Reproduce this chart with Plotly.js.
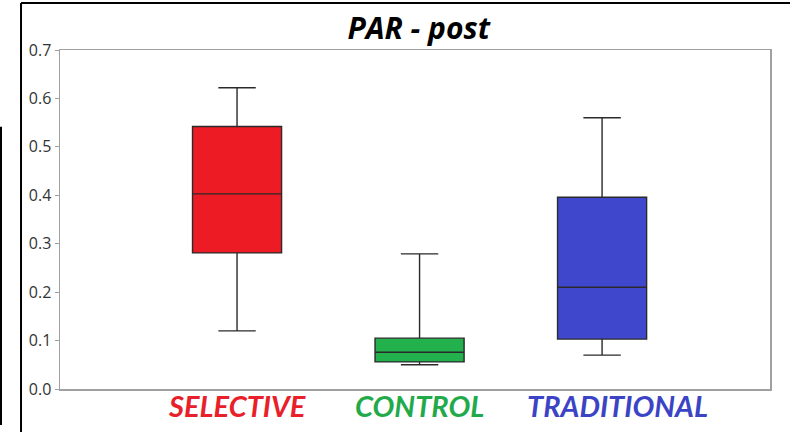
<!DOCTYPE html>
<html>
<head>
<meta charset="utf-8">
<script src="https://cdn.plot.ly/plotly-3.0.1.min.js"></script>
<style>html,body{margin:0;padding:0;background:#fff;}#chart{width:790px;height:432px;}</style>
</head>
<body>
<div id="chart"></div>
<script>
const categories = ["SELECTIVE", "CONTROL", "TRADITIONAL"];
const lowerWhisker = [0.120, 0.050, 0.070];
const q1Values = [0.281, 0.056, 0.103];
const medianValues = [0.403, 0.076, 0.210];
const q3Values = [0.542, 0.105, 0.396];
const upperWhisker = [0.622, 0.279, 0.560];
const yTickVals = [0, 0.1, 0.2, 0.3, 0.4, 0.5, 0.6, 0.7];

const fillColors = ["#ed1c24", "#22b14c", "#3f48cc"];
const labelColors = ["#e8202a", "#22aa4a", "#3b44c4"];
const labelShift = [0, 0, 15];

const traces = categories.map((c, i) => ({
  type: "box",
  name: c,
  x: [i],
  q1: [q1Values[i]],
  median: [medianValues[i]],
  q3: [q3Values[i]],
  lowerfence: [lowerWhisker[i]],
  upperfence: [upperWhisker[i]],
  width: 0.488,
  whiskerwidth: 0.42,
  fillcolor: fillColors[i],
  line: {color: "#2a2a2a", width: 1.4},
  showlegend: false,
  hoverinfo: "none"
}));

const annotations = categories.map((c, i) => ({
  x: i, xref: "x", y: 0, yref: "paper", yanchor: "top", yshift: 3,
  xshift: labelShift[i],
  text: "<b><i>" + c + "</i></b>", showarrow: false,
  font: {family: "Lato, 'Open Sans', sans-serif", size: 29, color: labelColors[i]}
}));

const layout = {
  width: 790, height: 432,
  margin: {l: 60, r: 20, t: 50, b: 43},
  paper_bgcolor: "#fff", plot_bgcolor: "#fff",
  title: {
    text: "<b><i>PAR - post</i></b>",
    x: 0.53, xanchor: "center", y: 0.935, yanchor: "middle",
    font: {family: "'Open Sans', sans-serif", size: 30, color: "#000"}
  },
  xaxis: {
    range: [-0.97, 2.92], showticklabels: false, ticks: "",
    showline: true, linecolor: "#a0a0a0", linewidth: 1.5, mirror: true,
    showgrid: false, zeroline: false
  },
  yaxis: {
    range: [0, 0.7], tickvals: yTickVals, tickformat: ".1f",
    ticks: "outside", ticklen: 4, tickcolor: "#a0a0a0", tickwidth: 1,
    showline: true, linecolor: "#a0a0a0", linewidth: 1.5, mirror: true,
    showgrid: false, zeroline: false,
    tickfont: {family: "'Open Sans', sans-serif", size: 16, color: "#333"}
  },
  annotations: annotations,
  shapes: [
    {type: "line", xref: "paper", yref: "paper", x0: -0.0549, x1: 1.03, y0: 1.1386, y1: 1.1386, line: {color: "#000", width: 2}},
    {type: "line", xref: "paper", yref: "paper", x0: -0.0549, x1: -0.0549, y0: 1.1386, y1: -0.13, line: {color: "#000", width: 2}},
    {type: "line", xref: "paper", yref: "paper", x0: -0.0831, x1: -0.0831, y0: 0.7735, y1: -0.1062, line: {color: "#000", width: 2}}
  ]
};

Plotly.newPlot("chart", traces, layout, {staticPlot: true, displayModeBar: false});
</script>
</body>
</html>
